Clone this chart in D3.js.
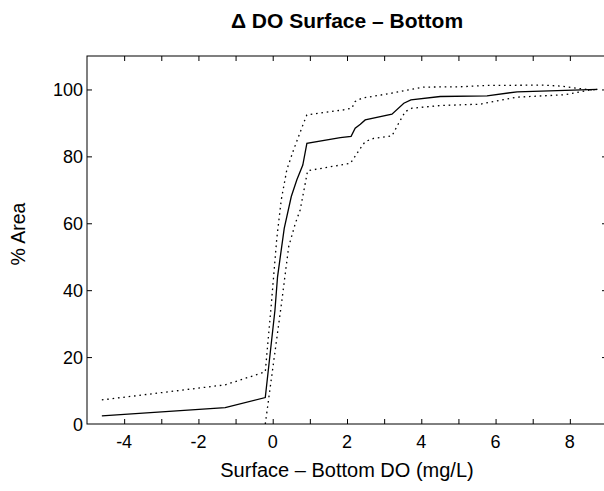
<!DOCTYPE html>
<html>
<head>
<meta charset="utf-8">
<script src="https://cdn.jsdelivr.net/npm/d3@7"></script>
<style>
  html, body { margin: 0; padding: 0; background: #fff; }
  text { font-family: "Liberation Sans", Arial, Helvetica, sans-serif; fill: #000; }
</style>
</head>
<body>
<svg id="chart" width="604" height="491"></svg>
<script>
// ---- data ----
const solidX = [-4.60, -1.28, -0.20, 0.06, 0.13, 0.31, 0.50, 0.65, 0.81, 0.92, 1.82, 2.11, 2.22, 2.36, 2.49, 3.21, 3.53, 3.72, 4.51, 5.77, 6.58, 8.74];
const solidY = [2.4, 4.9, 7.9, 34, 44, 58.5, 68, 73, 77.4, 83.9, 85.6, 86.0, 88.4, 89.6, 90.9, 92.6, 95.9, 96.9, 97.9, 98.1, 99.3, 100];

const upperX = [-4.60, -1.28, -0.20, -0.04, 0.11, 0.23, 0.38, 0.56, 0.83, 0.92, 1.91, 2.13, 2.22, 2.40, 3.21, 3.66, 4.06, 5.05, 5.77, 7.30, 7.75, 8.56, 8.74];
const upperY = [7.2, 11.7, 15.6, 35.5, 55.5, 67, 76, 81.9, 89.9, 92.4, 93.9, 94.4, 96.4, 97.4, 98.9, 99.9, 100.7, 100.8, 101.2, 101.3, 101.0, 99.85, 100];

const lowerX = [-0.20, 0.23, 0.43, 0.61, 0.74, 0.94, 1.82, 2.09, 2.36, 2.49, 2.72, 3.21, 3.39, 3.57, 3.75, 4.51, 5.05, 5.59, 5.95, 6.58, 7.84, 8.56, 8.74];
const lowerY = [0, 35.5, 53, 60, 64, 75.7, 77.4, 77.9, 82.4, 84.4, 85.4, 86.1, 89.9, 93.4, 94.4, 95.2, 95.4, 95.6, 96.4, 97.7, 98.4, 99.85, 100];

const xTickLabels = [-4, -2, 0, 2, 4, 6, 8];
const xMinorTicks = [-4, -3, -2, -1, 0, 1, 2, 3, 4, 5, 6, 7, 8];
const yTickLabels = [0, 20, 40, 60, 80, 100];

const titleText = "\u0394 DO Surface \u2013 Bottom";
const xLabelText = "Surface \u2013 Bottom DO (mg/L)";
const yLabelText = "% Area";

// ---- layout ----
const svg = d3.select("#chart");
const L = 87, R = 607, T = 56, B = 424;
const x = d3.scaleLinear().domain([-5, 9]).range([L, R]);
const y = d3.scaleLinear().domain([0, 110]).range([B, T]);

svg.append("defs").append("clipPath").attr("id", "clip")
  .append("rect").attr("x", L).attr("y", T).attr("width", R - L).attr("height", B - T);

// frame
svg.append("rect").attr("x", L).attr("y", T).attr("width", R - L).attr("height", B - T)
  .attr("fill", "none").attr("stroke", "#000").attr("stroke-width", 1);

const tickLen = 5;
const xAxisB = svg.append("g").attr("transform", `translate(0,${B})`)
  .call(d3.axisBottom(x).tickValues(xMinorTicks).tickSize(-tickLen).tickFormat(""));
const xAxisT = svg.append("g").attr("transform", `translate(0,${T})`)
  .call(d3.axisTop(x).tickValues(xMinorTicks).tickSize(-tickLen).tickFormat(""));
const yAxisL = svg.append("g").attr("transform", `translate(${L},0)`)
  .call(d3.axisLeft(y).tickValues(yTickLabels.filter(v => v > 0)).tickSize(-tickLen).tickFormat(""));
const yAxisR = svg.append("g").attr("transform", `translate(${R},0)`)
  .call(d3.axisRight(y).tickValues(yTickLabels.filter(v => v > 0)).tickSize(-tickLen).tickFormat(""));
[xAxisB, xAxisT, yAxisL, yAxisR].forEach(g => {
  g.select(".domain").remove();
  g.selectAll("line").attr("stroke", "#000").attr("stroke-width", 1);
});

// tick labels
svg.append("g").selectAll("text").data(xTickLabels).join("text")
  .attr("x", d => x(d)).attr("y", B + 24)
  .attr("text-anchor", "middle").attr("font-size", 18)
  .text(d => d);
svg.append("g").selectAll("text").data(yTickLabels).join("text")
  .attr("x", L - 4).attr("y", d => y(d) + 6.5)
  .attr("text-anchor", "end").attr("font-size", 18)
  .text(d => d);

// lines
const line = d3.line().x(d => x(d[0])).y(d => y(d[1]));
const zip = (a, b) => a.map((v, i) => [v, b[i]]);
const g = svg.append("g").attr("clip-path", "url(#clip)");
g.append("path").datum(zip(upperX, upperY)).attr("d", line)
  .attr("fill", "none").attr("stroke", "#000").attr("stroke-width", 1.3).attr("stroke-dasharray", "1.6,3.8");
g.append("path").datum(zip(lowerX, lowerY)).attr("d", line)
  .attr("fill", "none").attr("stroke", "#000").attr("stroke-width", 1.3).attr("stroke-dasharray", "1.6,3.8");
g.append("path").datum(zip(solidX, solidY)).attr("d", line)
  .attr("fill", "none").attr("stroke", "#000").attr("stroke-width", 1.3);

// titles
svg.append("text").attr("x", (L + R) / 2).attr("y", 28)
  .attr("text-anchor", "middle").attr("font-size", 21).attr("font-weight", "bold")
  .text(titleText);
svg.append("text").attr("x", (L + R) / 2).attr("y", 477)
  .attr("text-anchor", "middle").attr("font-size", 20)
  .text(xLabelText);
svg.append("text").attr("transform", `translate(25,234) rotate(-90)`)
  .attr("text-anchor", "middle").attr("font-size", 19.5)
  .text(yLabelText);
</script>
</body>
</html>
